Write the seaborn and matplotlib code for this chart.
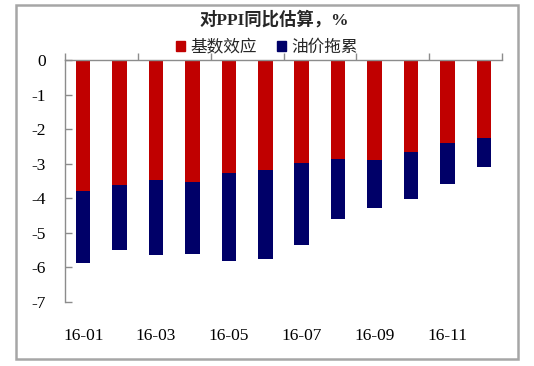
import matplotlib
matplotlib.use("Agg")
import matplotlib.pyplot as plt
import seaborn as sns
import pandas as pd
from matplotlib.patches import Patch, Rectangle

months = ["16-01", "16-02", "16-03", "16-04", "16-05", "16-06",
          "16-07", "16-08", "16-09", "16-10", "16-11", "16-12"]
base_effect = [-3.80, -3.63, -3.46, -3.52, -3.28, -3.17, -2.99, -2.85, -2.88, -2.65, -2.39, -2.27]
oil_drag = [-2.08, -1.88, -2.19, -2.10, -2.52, -2.60, -2.37, -1.76, -1.41, -1.38, -1.20, -0.83]
y_ticks = [0, -1, -2, -3, -4, -5, -6, -7]
series_names = ["基数效应", "油价拖累"]
title = "对PPI同比估算，%"

red = "#C00000"
navy = "#000068"
gray = "#8c8c8c"

sns.set_theme(style="white")
plt.rcParams["font.family"] = ["Liberation Serif", "Noto Sans CJK SC"]
plt.rcParams["axes.unicode_minus"] = False

df = pd.DataFrame({"month": months, "base": base_effect, "oil": oil_drag})
df["total"] = df["base"] + df["oil"]

fig = plt.figure(figsize=(5.34, 3.66), dpi=100)
ax = fig.add_axes([65 / 534, 1 - 302 / 366, (502 - 65) / 534, (302 - 60) / 366])

sns.barplot(data=df, x="month", y="total", color=navy, saturation=1, width=0.4,
            linewidth=0, edgecolor="none", ax=ax)
sns.barplot(data=df, x="month", y="base", color=red, saturation=1, width=0.4,
            linewidth=0, edgecolor="none", ax=ax)

ax.set_ylim(-7, 0)
ax.set_xlim(-0.5, 11.5)
ax.set_xlabel("")
ax.set_ylabel("")

for s in ["bottom", "right"]:
    ax.spines[s].set_visible(False)
for s in ["left", "top"]:
    ax.spines[s].set_visible(True)
    ax.spines[s].set_color(gray)
    ax.spines[s].set_linewidth(1.0)

ax.set_yticks(y_ticks)
ax.set_yticklabels([str(v) for v in y_ticks])
ax.tick_params(axis="y", direction="in", length=5, width=1, color=gray, left=True,
               pad=14, labelsize=12.5, labelcolor="black")

# category boundary ticks on the top (zero) axis
boundaries = [i - 0.5 for i in range(0, 13, 2)]
ax.set_xticks(boundaries)
ax.set_xticklabels([""] * len(boundaries))
ax.tick_params(axis="x", which="major", direction="out", length=5, width=1, color=gray,
               top=True, bottom=False, labeltop=False, labelbottom=False)
centers = list(range(0, 12, 2))
ax.set_xticks(centers, minor=True)
ax.set_xticklabels([months[i] for i in centers], minor=True)
ax.tick_params(axis="x", which="minor", length=0, bottom=True, top=False,
               labelbottom=True, pad=19, labelsize=12.5, labelcolor="black")
ax.grid(False)

fig.text(274 / 534, 1 - 20 / 366, title, ha="center", va="center",
         fontsize=12.5, fontweight="bold")

handles = [Patch(facecolor=red, edgecolor=red), Patch(facecolor=navy, edgecolor=navy)]
fig.legend(handles, series_names, loc="center", bbox_to_anchor=(267 / 534, 1 - 48 / 366),
           ncol=2, frameon=False, fontsize=12, handlelength=0.55, handleheight=0.55,
           handletextpad=0.3, columnspacing=1.2, borderpad=0)

fig.patches.append(Rectangle((16 / 534, 1 - 359 / 366), (518 - 16) / 534, (359 - 5) / 366,
                             transform=fig.transFigure, fill=False,
                             edgecolor="#a6a6a6", linewidth=1.8))

fig.savefig("out.png", dpi=100, facecolor="white")
